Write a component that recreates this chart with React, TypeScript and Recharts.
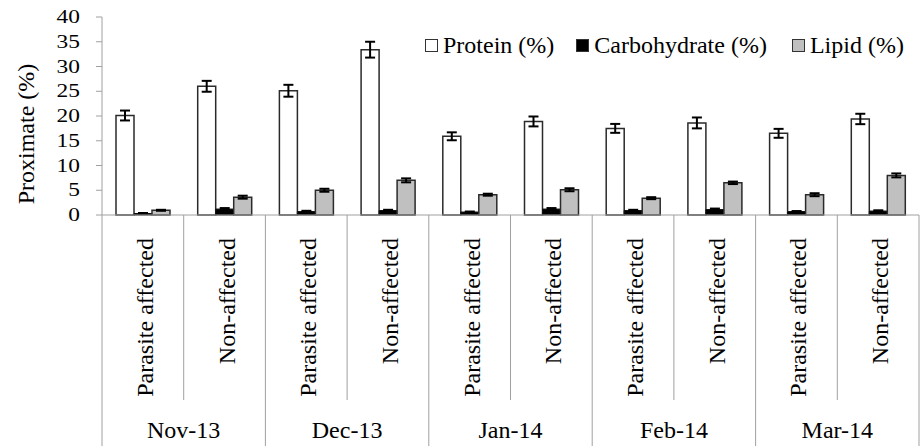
import { Bar, BarChart, ErrorBar, Legend, XAxis, YAxis } from "recharts";

const months = ["Nov-13", "Dec-13", "Jan-14", "Feb-14", "Mar-14"];
const groups = ["Parasite affected", "Non-affected"];

const protein = [20.1, 26.0, 25.1, 33.4, 15.9, 18.9, 17.5, 18.6, 16.5, 19.4];
const proteinErr = [1.0, 1.1, 1.2, 1.6, 0.8, 1.0, 0.9, 1.1, 0.9, 1.05];
const carbohydrate = [0.3, 1.2, 0.7, 0.9, 0.6, 1.2, 0.9, 1.1, 0.7, 0.8];
const carbohydrateErr = [0.1, 0.2, 0.15, 0.15, 0.1, 0.2, 0.15, 0.2, 0.1, 0.15];
const lipid = [0.95, 3.6, 5.0, 7.0, 4.1, 5.1, 3.4, 6.5, 4.1, 8.0];
const lipidErr = [0.1, 0.3, 0.3, 0.4, 0.2, 0.3, 0.2, 0.25, 0.3, 0.4];
const yTicks = [0, 5, 10, 15, 20, 25, 30, 35, 40];

const data = protein.map((p, i) => ({
  month: months[Math.floor(i / 2)],
  group: groups[i % 2],
  protein: p,
  proteinErr: proteinErr[i],
  carbohydrate: carbohydrate[i],
  carbohydrateErr: carbohydrateErr[i],
  lipid: lipid[i],
  lipidErr: lipidErr[i],
}));

// layout
const W = 920;
const H = 446;
const TOP = 17;
const LEFT = 102;
const RIGHT = 1;
const PLOT_H = 198;
const AXIS_Y = TOP + PLOT_H;
const CAT_W = (W - LEFT - RIGHT) / data.length;
const FONT = "Liberation Serif, DejaVu Serif, serif";
const GRID = "#a0a0a0";

const YTick = ({ x, y, payload }: any) => (
  <text
    transform={`translate(${x},${y + 6}) scale(1.3,1)`}
    textAnchor="end"
    fontSize={18}
    style={{ fontFamily: FONT }}
    fill="#000"
  >
    {payload.value}
  </text>
);

const XTick = ({ x, index, payload }: any) => {
  const left = x - CAT_W / 2;
  const last = index === data.length - 1;
  return (
    <g>
      <line x1={left} y1={AXIS_Y} x2={left} y2={index % 2 === 0 ? H : 400} stroke={GRID} />
      {last && <line x1={left + CAT_W} y1={AXIS_Y} x2={left + CAT_W} y2={H} stroke={GRID} />}
      <text
        transform={`translate(${x + 10},238) rotate(-90)`}
        textAnchor="end"
        fontSize={24}
        style={{ fontFamily: FONT }}
        fill="#000"
      >
        {payload.value}
      </text>
      {index % 2 === 0 && (
        <text x={x + CAT_W / 2} y={438} textAnchor="middle" fontSize={24} style={{ fontFamily: FONT }} fill="#000">
          {data[index].month}
        </text>
      )}
    </g>
  );
};

const legendItems = [
  { label: "Protein (%)", fill: "#fff", gap: 22 },
  { label: "Carbohydrate (%)", fill: "#000", gap: 25 },
  { label: "Lipid (%)", fill: "#c0c0c0", gap: 0 },
];

const renderLegend = () => (
  <div style={{ display: "flex", alignItems: "center", fontFamily: FONT, fontSize: 24, lineHeight: "24px", whiteSpace: "nowrap" }}>
    {legendItems.map((it) => (
      <div key={it.label} style={{ display: "flex", alignItems: "center", marginRight: it.gap }}>
        <div style={{ width: 11, height: 11, background: it.fill, border: "1px solid #333", marginRight: 5 }} />
        <span>{it.label}</span>
      </div>
    ))}
  </div>
);

const YLabel = () => (
  <text
    transform={`translate(34,134) rotate(-90)`}
    textAnchor="middle"
    fontSize={24}
    style={{ fontFamily: FONT }}
    fill="#000"
  >
    Proximate (%)
  </text>
);

export default function App() {
  return (
    <div style={{ width: W, height: H, background: "#fff", fontFamily: FONT }}>
      <style>{"body{margin:0}"}</style>
      <BarChart
        width={W}
        height={H}
        data={data}
        margin={{ top: TOP, right: RIGHT, left: 0, bottom: 0 }}
        barGap={0}
        barSize={18}
        style={{ fontFamily: FONT }}
      >
        <XAxis
          dataKey="group"
          height={H - AXIS_Y}
          interval={0}
          axisLine={{ stroke: GRID }}
          tickLine={false}
          tick={<XTick />}
        />
        <YAxis
          width={LEFT}
          domain={[0, 40]}
          ticks={yTicks}
          interval={0}
          axisLine={{ stroke: GRID }}
          tickLine={{ stroke: GRID }}
          tickSize={6}
          tickMargin={16}
          tick={<YTick />}
          label={{ content: <YLabel /> }}
        />
        <Legend
          layout="vertical"
          align="center"
          verticalAlign="middle"
          content={renderLegend}
          wrapperStyle={{ top: 33, left: 425, width: "auto", height: "auto" }}
        />
        <Bar dataKey="protein" fill="#fff" stroke="#2a2a2a" strokeWidth={1.5} isAnimationActive={false}>
          <ErrorBar dataKey="proteinErr" width={5} stroke="#000" strokeWidth={2} />
        </Bar>
        <Bar dataKey="carbohydrate" fill="#000" stroke="#111" strokeWidth={1} isAnimationActive={false}>
          <ErrorBar dataKey="carbohydrateErr" width={5} stroke="#000" strokeWidth={2} />
        </Bar>
        <Bar dataKey="lipid" fill="#c0c0c0" stroke="#2a2a2a" strokeWidth={1.5} isAnimationActive={false}>
          <ErrorBar dataKey="lipidErr" width={5} stroke="#000" strokeWidth={2} />
        </Bar>
      </BarChart>
    </div>
  );
}
